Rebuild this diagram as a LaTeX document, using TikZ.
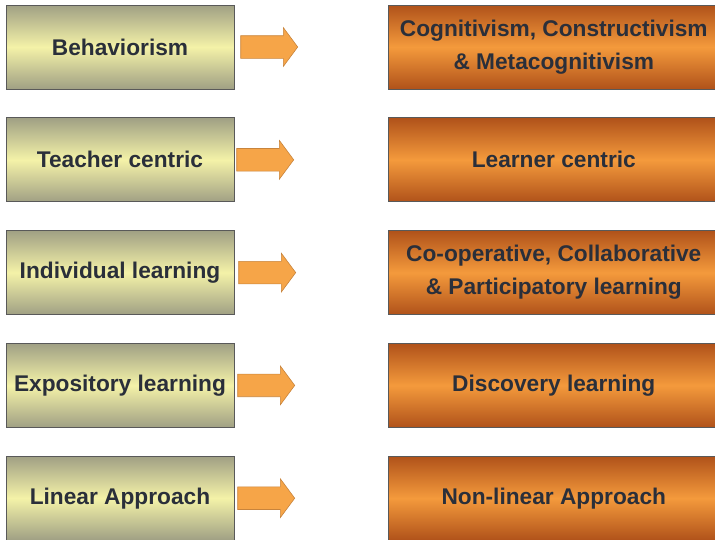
\documentclass[tikz,border=0pt]{standalone}
\usepackage{fontspec}
\setmainfont{Liberation Sans}
\usepackage{tikz}
\usetikzlibrary{positioning, shapes.arrows}
\usepackage{xcolor}

\definecolor{oldedge}{HTML}{A0A084}
\definecolor{oldmid}{HTML}{F4F2A8}
\definecolor{newedge}{HTML}{B0521A}
\definecolor{newmid}{HTML}{F49A3C}
\definecolor{arrfill}{HTML}{F6A548}
\definecolor{arrdraw}{HTML}{C8843C}
\definecolor{ink}{HTML}{2A2F3A}

\tikzset{
  oldbox/.style={draw=black!65, line width=0.8pt, minimum width=228pt, minimum height=84pt,
    top color=oldedge, bottom color=oldedge, middle color=oldmid,
    font=\bfseries\fontsize{22.7}{33}\selectfont, text=ink, align=center, inner sep=0pt},
  newbox/.style={draw=black!65, line width=0.8pt, minimum width=330pt, minimum height=84pt,
    top color=newedge, bottom color=newedge, middle color=newmid,
    font=\bfseries\fontsize{22.7}{33}\selectfont, text=ink, align=center, inner sep=0pt},
  shiftarrow/.style={single arrow, draw=arrdraw, fill=arrfill, line width=0.6pt,
    inner xsep=0pt, inner ysep=11pt, minimum height=57pt,
    single arrow head extend=8pt, single arrow tip angle=107}
}

\begin{document}
\begin{tikzpicture}
\useasboundingbox (0,0) rectangle (715pt,-539pt);
\clip (0,0) rectangle (715pt,-539pt);

% left column: the older views
\node[oldbox] (beh) at (120pt,-47pt) {Behaviorism};
\node[oldbox, below=28pt of beh] (teach) {Teacher centric};
\node[oldbox, below=28pt of teach] (indiv) {Individual learning};
\node[oldbox, below=28pt of indiv] (expo) {Expository learning};
\node[oldbox, below=28pt of expo] (lin) {Linear Approach};

% right column: what replaces them
\node[newbox, right=154pt of beh] (cog) {Cognitivism, Constructivism\\\& Metacognitivism};
\node[newbox, right=154pt of teach] (learn) {Learner centric};
\node[newbox, right=154pt of indiv] (coop) {Co-operative, Collaborative\\\& Participatory learning};
\node[newbox, right=154pt of expo] (disc) {Discovery learning};
\node[newbox, right=154pt of lin] (nonlin) {Non-linear Approach};

% block arrows
\node[shiftarrow, right=6pt of beh] (beh-arr) {};
\node[shiftarrow, right=2pt of teach] (teach-arr) {};
\node[shiftarrow, right=4pt of indiv] (indiv-arr) {};
\node[shiftarrow, right=3pt of expo] (expo-arr) {};
\node[shiftarrow, right=3pt of lin] (lin-arr) {};
\end{tikzpicture}
\end{document}
